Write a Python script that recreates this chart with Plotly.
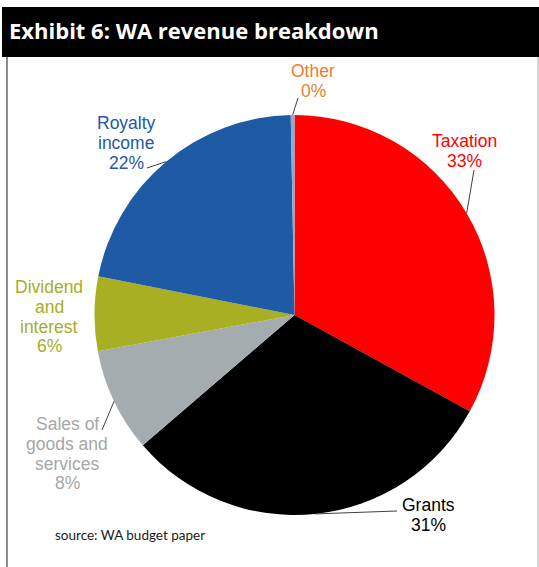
import math
import plotly.graph_objects as go

# Revenue shares (%), clockwise from 12 o'clock
categories = ["Taxation", "Grants", "Sales of goods and services",
              "Dividend and interest", "Royalty income", "Other"]
shares = [33.0, 30.7, 8.4, 6.0, 21.6, 0.3]
label_lines = [["Taxation"], ["Grants"], ["Sales of", "goods and", "services"],
               ["Dividend", "and", "interest"], ["Royalty", "income"], ["Other"]]

slice_colors = ["#FF0000", "#000000", "#A5ACAF", "#A8AF22", "#1F5BA5", "#8FA8D0"]
label_colors = ["#FF0000", "#000000", "#A6A6A6", "#A5AE24", "#2458A6", "#ED7D31"]

# Page geometry (pixels)
W, H = 539, 567
CX, CY, R = 294.5, 315.0, 200.0

# Label placement: centre x, first baseline y, leader end point (or None)
label_pos = {
    "Taxation": (464, 147, (474, 170)),
    "Grants": (428, 511, (397, 511)),
    "Sales of goods and services": (67, 430, (102, 430)),
    "Dividend and interest": (49, 293, None),
    "Royalty income": (126, 129, (147, 168)),
    "Other": (313, 77, (298, 98)),
}
LINE_STEP = 19.8
LABEL_FONT = "Liberation Sans, Arial, sans-serif"


def px(x):
    return x / W


def py(y):
    return 1 - y / H


fig = go.Figure()
fig.add_trace(go.Pie(
    labels=categories,
    values=shares,
    sort=False,
    direction="clockwise",
    rotation=0,
    marker=dict(colors=slice_colors, line=dict(width=0)),
    textinfo="none",
    hoverinfo="label+percent",
    showlegend=False,
    domain=dict(x=[px(CX - R), px(CX + R)], y=[py(CY + R), py(CY - R)]),
))

shapes = []
annotations = []

# Title bar and frame
shapes.append(dict(type="rect", xref="paper", yref="paper",
                   x0=px(2), x1=1.0, y0=py(57), y1=py(7),
                   fillcolor="#000000", line=dict(width=0), layer="below"))
shapes.append(dict(type="line", xref="paper", yref="paper",
                   x0=px(7), x1=px(7), y0=py(57), y1=0,
                   line=dict(color="#8C8C8C", width=2)))
shapes.append(dict(type="line", xref="paper", yref="paper",
                   x0=px(538), x1=px(538), y0=py(57), y1=0,
                   line=dict(color="#A6A6A6", width=1)))
annotations.append(dict(text="<b>Exhibit 6: WA revenue breakdown</b>",
                        xref="paper", yref="paper", x=px(7), y=py(30),
                        xanchor="left", yanchor="middle", showarrow=False,
                        font=dict(family="Open Sans, sans-serif", size=22, color="#FFFFFF")))
annotations.append(dict(text="source: WA budget paper",
                        xref="paper", yref="paper", x=px(53), y=py(535),
                        xanchor="left", yanchor="middle", showarrow=False,
                        font=dict(family="Lato, sans-serif", size=13.5, color="#1A1A1A")))

# Category labels with percentages and leader lines
total = sum(shares)
cum = 0.0
for name, val, lines, col in zip(categories, shares, label_lines, label_colors):
    pct = f"{round(val / total * 100)}%"
    cx, base, end = label_pos[name]
    for i, line in enumerate(lines + [pct]):
        annotations.append(dict(text=line, xref="paper", yref="paper",
                                x=px(cx), y=py(base + i * LINE_STEP - 6),
                                xanchor="center", yanchor="middle", showarrow=False,
                                font=dict(family=LABEL_FONT, size=17.5, color=col)))
    if end is not None:
        theta = 2 * math.pi * (cum + val / 2) / total
        sx = CX + R * math.sin(theta)
        sy = CY - R * math.cos(theta)
        shapes.append(dict(type="line", xref="paper", yref="paper",
                           x0=px(sx), y0=py(sy), x1=px(end[0]), y1=py(end[1]),
                           line=dict(color="#404040", width=1)))
    cum += val

fig.update_layout(
    width=W, height=H,
    margin=dict(l=0, r=0, t=0, b=0),
    paper_bgcolor="#FFFFFF",
    plot_bgcolor="#FFFFFF",
    shapes=shapes,
    annotations=annotations,
)

fig.write_html("out.html")
